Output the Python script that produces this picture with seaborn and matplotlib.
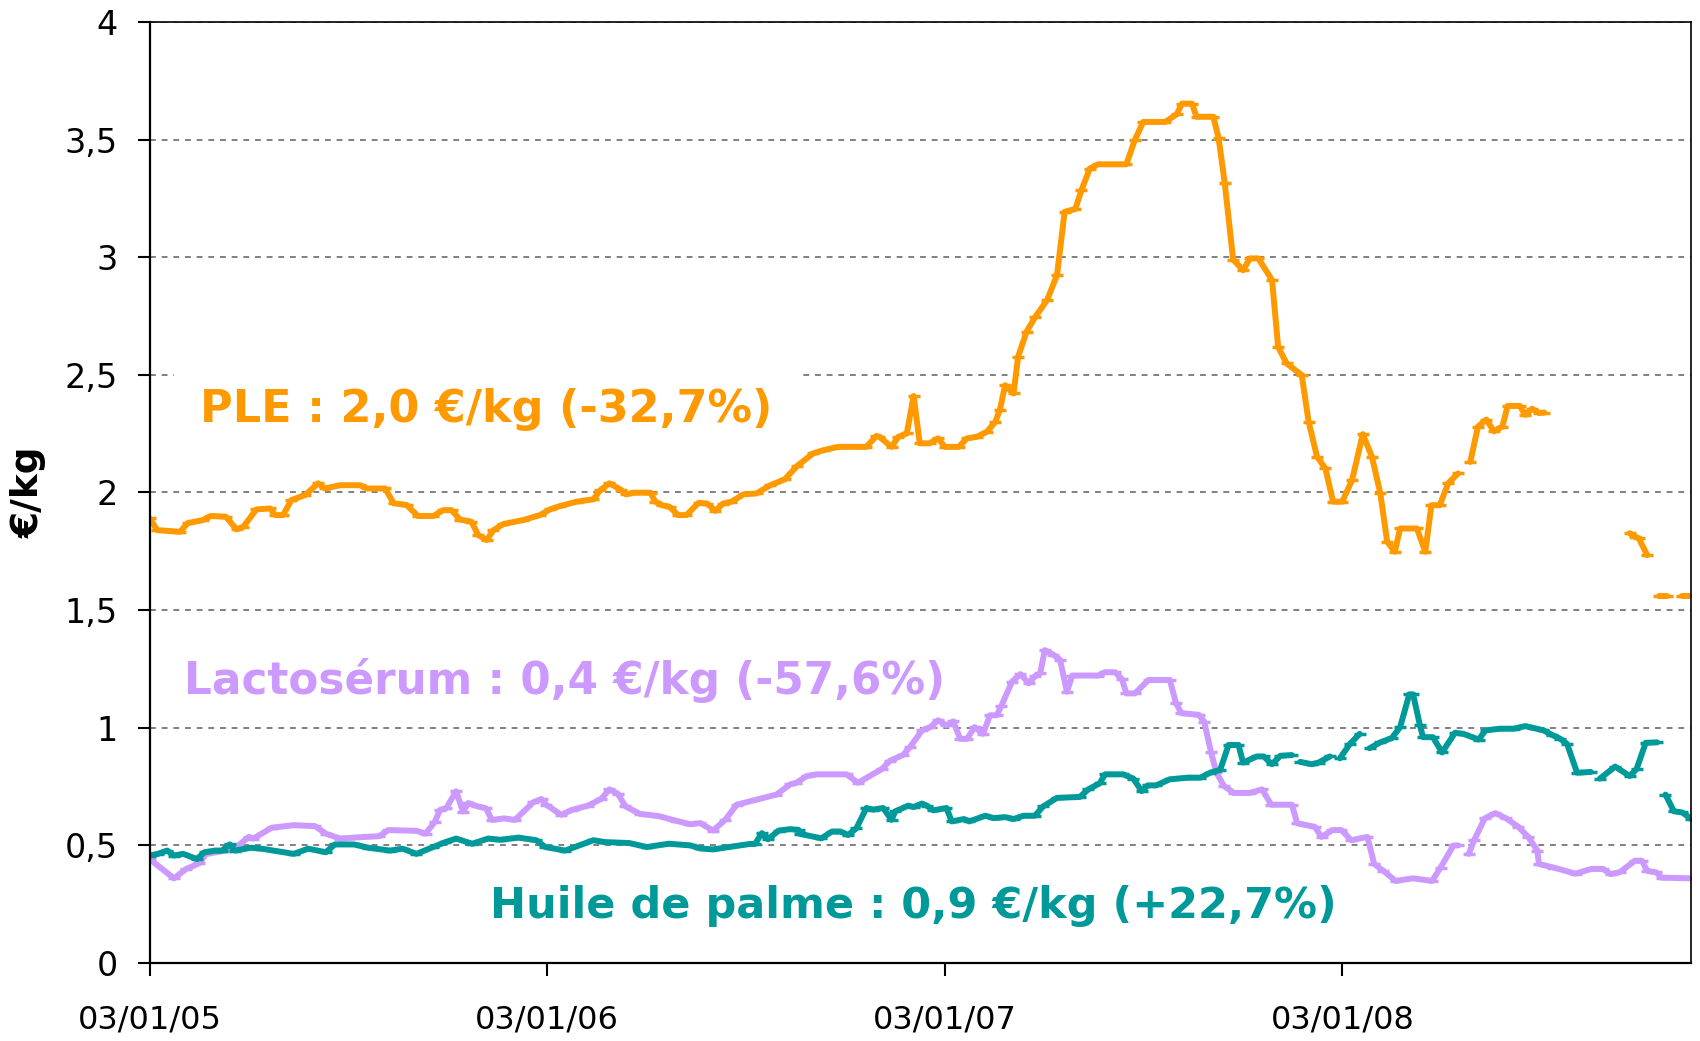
import numpy as np
import pandas as pd
import matplotlib
matplotlib.use("Agg")
import matplotlib.pyplot as plt
import seaborn as sns

nan = np.nan

# ---------------- data (week offsets from 03/01/05, values in EUR/kg) ----------------
ple_weeks = [0, 1, 4, 5, 7, 8, 10, 11.4, 12.3, 14, 15.8, 16.5, 17.5, 18.6, 20.4, 22.1, 23, 25, 27.6, 28.5,
             30.9, 32, 33.7, 35.2, 37.2, 38.5, 39.6, 40.7, 42.2, 43.1, 44.2, 45.1, 46.4, 49, 51.2, 52.5, 53.8,
             56, 58.2, 59.1, 60.3, 61.8, 62.5, 63.4, 65.7, 66.3, 67.2, 68.2, 69.3, 70.4, 72, 73.1, 74.2, 75.2,
             76.3, 77.9, 79.6, 81.4, 83.3, 84.9, 87, 88.4, 90.3, 94, 95.3, 95.7, 97.3, 98.2, 99.3, 100.2, 101,
             102.3, 103.4, 104.3, 106.1, 107.2, 108.5, 109.8, 110.9, 111.5, 112.2, 113.3, 113.9, 115, 116.1,
             117.7, 119, 120, 121.4, 122.2, 123.3, 124.4, 128.1, 129.2, 130.3, 133.2, 134.7, 135.4, 136.7,
             137.3, 139.5, 140.2, 141, 142.1, 143.4, 144.3, 145.4, 147.2, 148, 149.1, 151.1, 152, 153.1, 154.2,
             155.2, 156.4, 157.7, 159.1, 160.3, 161.4, 162.3, 163.3, 164, 166.2, 167.3, 168.1, 169.2, 170.3,
             171.6, 172.4, 173.2, 174.2, 175.3, 176.3, 177.4, 178.1, 179.7, 180.4, 181.3, 182.2, 182.9, 188,
             194.1, 194.8, 195.3, 196.4, 197.2, 198, 199, 200, 201, 202]
ple_values = [1.89, 1.84, 1.833, 1.87, 1.883, 1.90, 1.897, 1.843, 1.855, 1.928, 1.932, 1.904, 1.904, 1.968,
              1.989, 2.039, 2.017, 2.031, 2.031, 2.017, 2.017, 1.954, 1.947, 1.90, 1.90, 1.925, 1.925, 1.885,
              1.876, 1.819, 1.798, 1.84, 1.866, 1.883, 1.904, 1.928, 1.942, 1.961, 1.971, 2.01, 2.039, 2.012,
              1.992, 1.999, 1.999, 1.961, 1.946, 1.939, 1.904, 1.904, 1.956, 1.953, 1.922, 1.953, 1.961, 1.992,
              1.996, 2.031, 2.056, 2.112, 2.166, 2.18, 2.194, 2.194, 2.24, 2.237, 2.194, 2.237, 2.251, 2.41,
              2.209, 2.209, 2.23, 2.194, 2.194, 2.23, 2.237, 2.258, 2.30, 2.35, 2.456, 2.421, 2.577, 2.683,
              2.744, 2.818, 2.924, 3.193, 3.205, 3.285, 3.377, 3.395, 3.395, 3.498, 3.575, 3.575, 3.608, 3.653,
              3.653, 3.597, 3.597, 3.505, 3.314, 2.99, 2.945, 2.995, 2.995, 2.903, 2.619, 2.549, 2.499, 2.30,
              2.152, 2.102, 1.961, 1.961, 2.053, 2.248, 2.152, 1.996, 1.791, 1.748, 1.847, 1.847, 1.748, 1.946,
              1.946, 2.039, 2.081, nan, 2.13, 2.28, 2.31, 2.26, 2.28, 2.368, 2.368, 2.33, 2.356, 2.338, 2.34,
              nan, 1.827, 1.812, 1.805, 1.734, nan, 1.562, 1.562, nan, 1.562, 1.562]

lac_weeks = [0, 3.2, 4.8, 6.5, 7.4, 10, 11.4, 13, 13.6, 16, 18.9, 21.7, 23.1, 25, 28.2, 30.1, 31.3, 35, 36.2,
             37.4, 38.1, 38.9, 40.2, 41.1, 41.8, 43, 44.1, 44.9, 46.5, 47.9, 50.3, 51.4, 52, 54, 55.4, 57.5,
             59.2, 60.3, 61.4, 62.4, 64.3, 66.7, 69, 70.9, 72.2, 73.9, 75.5, 77, 82.2, 84, 84.8, 86.2, 87.5,
             91.4, 92.9, 96, 97.1, 98.8, 99.7, 101.3, 102.4, 103.4, 104.5, 105.4, 106.3, 107.2, 108.2, 109.3,
             110.2, 111.1, 111.7, 113.1, 114.2, 115.3, 116.1, 116.8, 117.4, 118.5, 119.4, 120.3, 121, 124.4,
             125.3, 126.6, 127.5, 128.1, 129.2, 131, 133.8, 134.6, 135.3, 137.6, 138.3, 139.2, 139.9, 140.9,
             142.2, 144.3, 145.9, 147.1, 149.8, 150.5, 152.8, 153.7, 155.1, 156.3, 157.6, 159.7, 160.6, 161.8,
             163.4, 165.7, 168.2, 169.3, 171, 171.6, 172.3, 173, 173.7, 175.1, 176.5, 177.9, 179.5, 180.8, 182,
             182.2, 184.1, 187, 189.1, 190.6, 191.6, 192.8, 194.8, 195.7, 196.4, 197.6, 198.3, 202.2]
lac_values = [0.442, 0.36, 0.40, 0.424, 0.464, 0.478, 0.493, 0.536, 0.529, 0.575, 0.586, 0.582, 0.55, 0.529,
              0.536, 0.539, 0.565, 0.562, 0.55, 0.60, 0.651, 0.658, 0.73, 0.644, 0.68, 0.666, 0.658, 0.608,
              0.615, 0.608, 0.683, 0.697, 0.673, 0.63, 0.651, 0.669, 0.697, 0.738, 0.72, 0.666, 0.634, 0.625,
              0.605, 0.59, 0.595, 0.563, 0.609, 0.673, 0.716, 0.759, 0.766, 0.795, 0.802, 0.802, 0.766, 0.824,
              0.86, 0.884, 0.917, 0.989, 1.003, 1.032, 1.01, 1.027, 0.953, 0.953, 1.003, 0.974, 1.053, 1.053,
              1.093, 1.196, 1.228, 1.189, 1.218, 1.232, 1.33, 1.311, 1.289, 1.153, 1.222, 1.222, 1.236, 1.236,
              1.208, 1.146, 1.146, 1.203, 1.203, 1.105, 1.062, 1.055, 1.026, 0.896, 0.81, 0.752, 0.723, 0.723,
              0.738, 0.673, 0.673, 0.594, 0.579, 0.536, 0.565, 0.565, 0.522, 0.536, 0.421, 0.392, 0.349, 0.36,
              0.349, 0.406, 0.50, 0.50, nan, 0.464, 0.522, 0.615, 0.637, 0.615, 0.579, 0.536, 0.478, 0.421,
              0.406, 0.38, 0.40, 0.40, 0.378, 0.386, 0.435, 0.435, 0.392, 0.385, 0.363, 0.36]

hui_weeks = [0, 1.1, 2.3, 3.2, 4.4, 6.2, 7.2, 8.6, 9.5, 10.5, 11.2, 13.3, 14.7, 18.9, 20.8, 23.1, 24.3, 26.8,
             28.7, 31.5, 33.2, 35, 37.2, 38.8, 40.2, 42.3, 44.4, 46, 48.4, 50.7, 51.9, 54.5, 58.2, 59.7, 62.9,
             65.2, 68.1, 70.9, 72.2, 73.9, 78.7, 79.4, 80.3, 81.1, 82.5, 84, 85.1, 85.3, 88.1, 89.5, 90.6, 91.6,
             92.7, 94, 94.9, 96.2, 97.3, 97.8, 99.5, 100.2, 101.3, 101.9, 102.8, 104.5, 105.2, 106.8, 107.5,
             109.6, 110.7, 112.2, 113.3, 114.6, 116.1, 117.2, 119, 122, 123.1, 124.6, 125.3, 127.7, 129, 130.1,
             130.9, 132, 133.8, 136.2, 137.8, 139.1, 140.4, 141.5, 142.8, 143.4, 145.2, 146.1, 147.2, 148.3,
             149.8, 150.3, 150.9, 152.4, 153.3, 154.8, 155.4, 156.1, 157.4, 158.7, 159.3, 160, 161.4, 162.9,
             164, 165.2, 165.7, 166.6, 167, 168.3, 169.5, 171.2, 172.3, 174.3, 175.2, 177.1, 178.9, 180.4,
             181.5, 182.8, 183.9, 185, 185.9, 187.2, 189, 189.6, 190.2, 192.2, 194.1, 195, 196.2, 197.7, 198.2,
             198.8, 199.9, 201, 202.2]
hui_values = [0.457, 0.464, 0.478, 0.457, 0.464, 0.442, 0.471, 0.478, 0.478, 0.504, 0.478, 0.49, 0.486, 0.464,
              0.486, 0.471, 0.504, 0.504, 0.49, 0.478, 0.486, 0.464, 0.493, 0.514, 0.529, 0.507, 0.529, 0.524,
              0.533, 0.522, 0.493, 0.478, 0.522, 0.514, 0.51, 0.493, 0.507, 0.50, 0.487, 0.483, 0.506, 0.506,
              0.552, 0.526, 0.563, 0.569, 0.566, 0.549, 0.53, 0.559, 0.559, 0.544, 0.573, 0.659, 0.652, 0.659,
              0.609, 0.645, 0.669, 0.663, 0.678, 0.669, 0.649, 0.659, 0.602, 0.612, 0.602, 0.626, 0.616, 0.62,
              0.612, 0.626, 0.626, 0.666, 0.702, 0.706, 0.738, 0.764, 0.802, 0.802, 0.784, 0.731, 0.755, 0.755,
              0.781, 0.788, 0.788, 0.809, 0.821, 0.927, 0.927, 0.852, 0.878, 0.878, 0.845, 0.881, 0.884, nan,
              0.855, 0.845, 0.852, 0.878, nan, 0.87, 0.931, 0.974, nan, 0.913, 0.938, 0.956, 1.003, 1.142,
              1.142, 1.01, 0.96, 0.96, 0.895, 0.979, 0.974, 0.95, 0.989, 0.996, 0.996, 1.007, 0.999, 0.989,
              0.97, 0.953, 0.931, 0.809, 0.812, nan, 0.784, 0.835, 0.795, 0.824, 0.936, 0.938, nan, 0.716,
              0.645, 0.64, 0.612]

series_names = ["PLE", "Lactosérum", "Huile de palme"]
series_colors = ["#FF9900", "#CC99FF", "#009999"]
series_labels = ["PLE : 2,0 €/kg (-32,7%)", "Lactosérum : 0,4 €/kg (-57,6%)",
                 "Huile de palme : 0,9 €/kg (+22,7%)"]

start_date = "2005-01-03"
end_date = "2008-11-18"
xtick_dates = ["2005-01-03", "2006-01-03", "2007-01-03", "2008-01-03"]
xtick_labels = ["03/01/05", "03/01/06", "03/01/07", "03/01/08"]
ytick_values = [0, 0.5, 1, 1.5, 2, 2.5, 3, 3.5, 4]
ytick_labels = ["0", "0,5", "1", "1,5", "2", "2,5", "3", "3,5", "4"]

# ---------------- build frames ----------------
start = pd.Timestamp(start_date)


def build(name, weeks, values):
    df = pd.DataFrame({"week": weeks, "value": values})
    df["unit"] = name + "_" + df["value"].isna().cumsum().astype(str)
    df = df.dropna().copy()
    df["date"] = start + pd.to_timedelta(df["week"] * 7, unit="D")
    return df


frames = [build(series_names[0], ple_weeks, ple_values),
          build(series_names[1], lac_weeks, lac_values),
          build(series_names[2], hui_weeks, hui_values)]

# ---------------- plot ----------------
sns.set_theme(style="white")
plt.rcParams["font.family"] = ["DejaVu Sans"]

fig = plt.figure(figsize=(17, 10.41), dpi=100)
ax = fig.add_axes([0.088, 0.0749, 0.9067, 0.904])

for df, col in zip(frames, series_colors):
    sns.lineplot(data=df, x="date", y="value", units="unit", estimator=None, sort=False,
                 color=col, linewidth=4.3, marker="_", markersize=8, mec=col, mew=2.5,
                 legend=False, ax=ax)

ax.set_xlim(pd.Timestamp(start_date), pd.Timestamp(end_date))
ax.set_ylim(0, 4)
ax.set_xticks([pd.Timestamp(d) for d in xtick_dates])
ax.set_xticklabels(xtick_labels)
ax.set_yticks(ytick_values)
ax.set_yticklabels(ytick_labels)
ax.set_xlabel("")
ax.set_ylabel("€/kg", fontsize=27, fontweight="bold", color="black")
ax.yaxis.set_label_coords(-0.067, 0.5)

ax.tick_params(axis="x", bottom=True, direction="out", length=9, width=1.5, pad=21,
               labelsize=23, colors="black")
ax.tick_params(axis="y", left=True, direction="out", length=9, width=1.5, pad=14,
               labelsize=24, colors="black")

ax.yaxis.grid(True, linestyle=(0, (3, 3)), color="#808080", linewidth=1.4)
ax.xaxis.grid(False)
ax.set_axisbelow(True)
for side, sp in ax.spines.items():
    sp.set_visible(True)
    sp.set_color("black")
    sp.set_linewidth(1.6 if side in ("left", "bottom") else 1.2)

# series labels
ax.text(0.033, 0.588, series_labels[0], transform=ax.transAxes, color=series_colors[0],
        fontsize=32, fontweight="bold", ha="left", va="center",
        bbox=dict(boxstyle="square,pad=0.6", facecolor="white", edgecolor="none"))
ax.text(0.022, 0.300, series_labels[1], transform=ax.transAxes, color=series_colors[1],
        fontsize=31.5, fontweight="bold", ha="left", va="center")
ax.text(0.221, 0.061, series_labels[2], transform=ax.transAxes, color=series_colors[2],
        fontsize=31, fontweight="bold", ha="left", va="center")

fig.savefig("out.png", dpi=100, facecolor="white")
